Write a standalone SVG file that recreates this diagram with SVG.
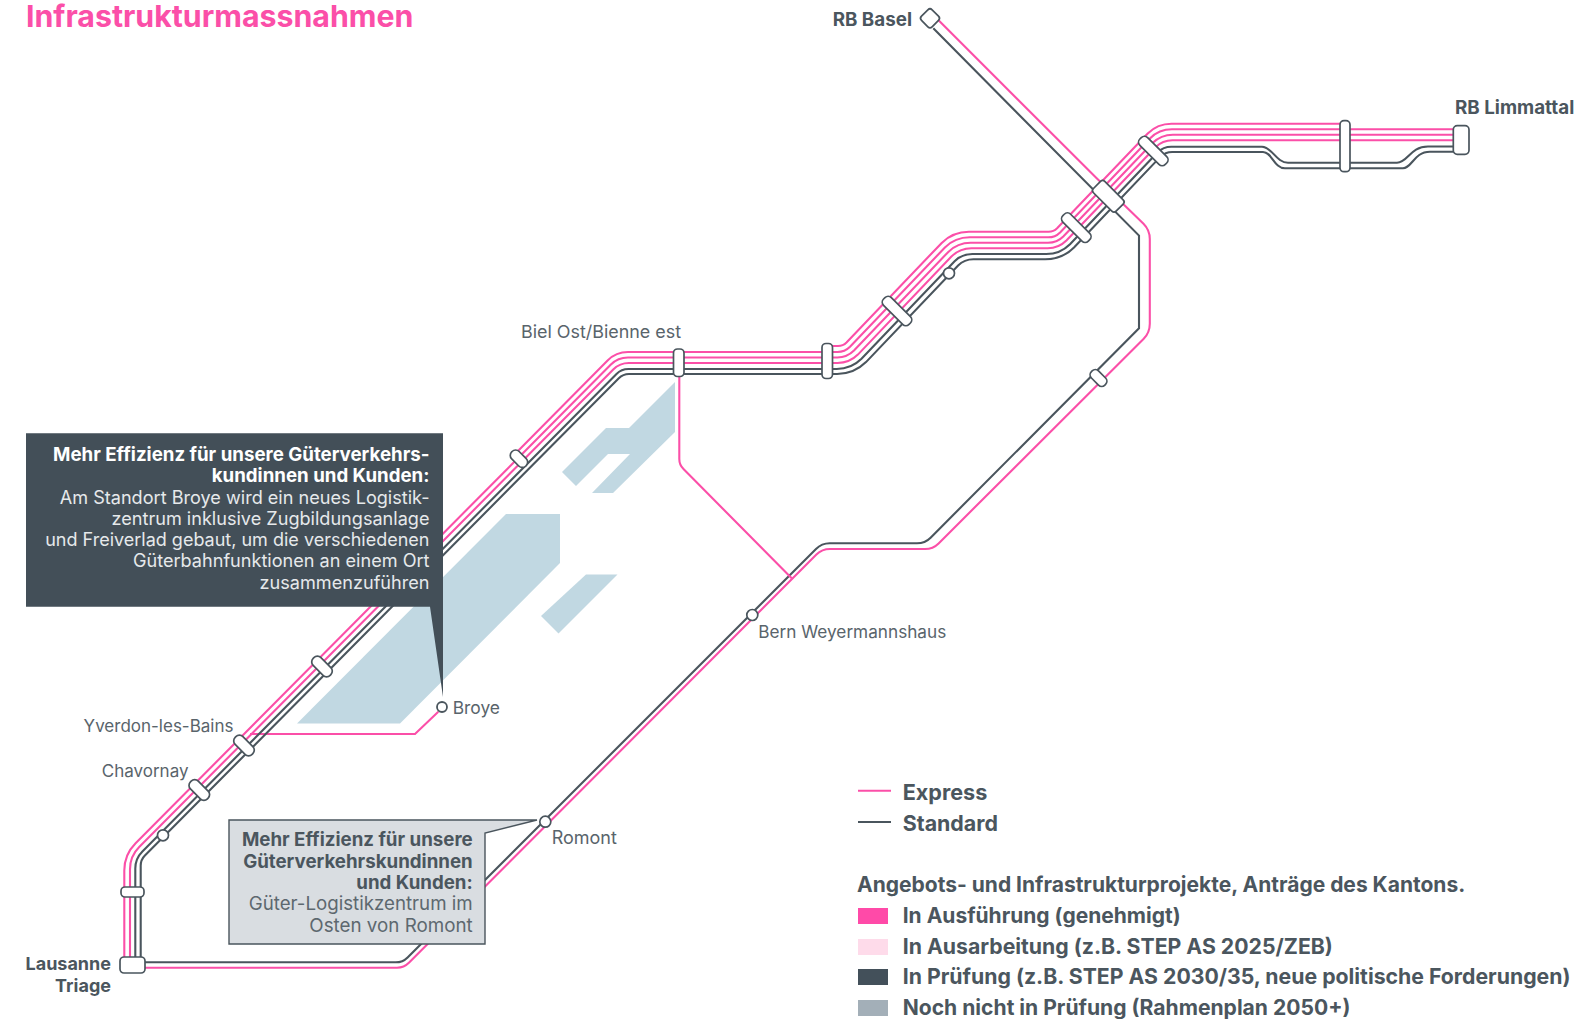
<svg xmlns="http://www.w3.org/2000/svg" width="1577" height="1019" viewBox="0 0 1577 1019">
<style>
text{font-family:Inter,"Liberation Sans",sans-serif;fill:#4b565e}
.p{fill:none;stroke:#fb4fa8;stroke-width:2.1}
.g{fill:none;stroke:#4a555d;stroke-width:2.1}
.st{fill:#fff;stroke:#4a555d;stroke-width:1.7}
.area{fill:#c1d8e2}
.lb{font-size:17.4px;fill:#59646b}
.lbb{font-size:18.8px;font-weight:700}
.leg{font-size:21px;font-weight:700}
.c{font-size:18.1px;text-anchor:end}
.cb{font-size:18.7px;font-weight:700;text-anchor:end}
.e{text-anchor:end}
</style>
<rect width="1577" height="1019" fill="#fff"/>
<text x="26" y="27" style="font-size:30.3px;font-weight:700;fill:#fb4fa8">Infrastrukturmassnahmen</text>
<g id="areas">
<polygon class="area" points="675,382 675,432 613,493 592,493 630,454 608,454 576,486 562,472 606,428 629,428"/>
<polygon class="area" points="506,514 560,514 560,563 400,723.5 297,723.5"/>
<polygon class="area" points="586,574.5 617.5,574.5 558.5,633.5 541,616"/>
</g>
<g id="connectors">
<path class="p" d="M938.3,20L1096.7,178.3L1143.5,223.7Q1149.8,230 1149.8,239V323.7Q1149.8,332.7 1143.5,339L938.6,543.4Q933,549 925,549H830Q822,549 816.4,554.6L408.9,962.8Q404,967.7 397,967.7H140"/>
<path class="g" d="M933.3,28.3L1139,235.6V328.3L930.6,537.7Q925,543.3 917,543.3H829.7Q821.7,543.3 816,549L407.6,957.4Q402.7,962.3 395.7,962.3H140"/>
<path class="p" d="M679.3,376V459Q679.3,465 683.5,469L791.7,578.3"/>
<path class="p" d="M250,734H415L438.3,711.7"/>
<path class="p" d="M827,346H838Q843,346 846.5,342.5L941.7,242.9Q952.9,231.7 968.9,231.7H1048.6Q1053.6,231.7 1057.1,228.2L1147.7,133.5Q1157.5,123.7 1171.5,123.7H1345"/>
<path class="p" d="M512,457L607.6,360.4Q616,352 628,352H837.4Q844.8,352 850,346.8L944.9,247.5Q955.1,237.3 969.7,237.3H1048.2Q1055.2,237.3 1060.1,232.4L1149.9,138.4Q1159,129.3 1172,129.3H1455"/>
<path class="p" d="M124.3,960V870.6Q124.3,854.6 135.6,843.3L610.9,364.5Q617.9,357.5 627.9,357.5H837.3Q847.1,357.5 854,350.6L948.3,251.9Q957.5,242.7 970.7,242.7H1048Q1057,242.7 1063.3,236.4L1152.5,143.1Q1160.9,134.7 1172.9,134.7H1455"/>
<path class="p" d="M130,960V869.3Q130,856.3 139.2,847.1L613.5,369.3Q619.8,363 628.8,363H837.5Q849.5,363 857.9,354.6L951.4,256.6Q959.7,248.3 971.5,248.3H1047.7Q1058.7,248.3 1066.4,240.6L1155.5,147.3Q1162.5,140.3 1172.5,140.3H1455"/>
<path class="g" d="M135.3,960V868.6Q135.3,858.6 142.4,851.5L616.5,373.9Q621.4,369 628.4,369H836.7Q851.3,369 861.5,358.8L954.6,261.3Q961.9,254 972.3,254H1046.2Q1060.2,254 1070,244.2L1157.7,152.3Q1163.3,146.7 1171.3,146.7H1262C1272,146.7 1276,162.7 1288,162.7H1397C1408,162.7 1410,146.5 1428,146.5H1455"/>
<path class="g" d="M140.7,960V865.8Q140.7,859.8 144.9,855.6L618.8,378.2Q623,374 629,374H837.1Q854.1,374 866,362.1L958.1,265.6Q964.4,259.3 973.4,259.3H1045.1Q1062.1,259.3 1074,247.4L1160.3,156.9Q1165.2,152 1172.2,152H1263C1272,152 1274,168.3 1285,168.3H1403C1412,168.3 1414,151.7 1430,151.7H1455"/>
</g>
<g id="callout-broye">
<polygon points="26,433.3 443,433.3 443,697 430,606.7 26,606.7" fill="#434f58"/>
<text class="cb" x="429.5" y="460.7" style="fill:#fff">Mehr Effizienz für unsere Güterverkehrs-</text>
<text class="cb" x="429.5" y="482.3" style="fill:#fff">kundinnen und Kunden:</text>
<text class="c" x="429.5" y="504" style="fill:#e6e9eb">Am Standort Broye wird ein neues Logistik-</text>
<text class="c" x="429.5" y="525.3" style="fill:#e6e9eb">zentrum inklusive Zugbildungsanlage</text>
<text class="c" x="429.5" y="546" style="fill:#e6e9eb;font-size:18px">und Freiverlad gebaut, um die verschiedenen</text>
<text class="c" x="429.5" y="567.3" style="fill:#e6e9eb">Güterbahnfunktionen an einem Ort</text>
<text class="c" x="429.5" y="588.7" style="fill:#e6e9eb">zusammenzuführen</text>
</g>
<g id="callout-romont">
<polygon points="229,820 537,820 485,833 485,944 229,944" fill="#d9dde1" stroke="#4a555d" stroke-width="1.4"/>
<text class="cb" x="472.7" y="846">Mehr Effizienz für unsere</text>
<text class="cb" x="472.7" y="867.7">Güterverkehrskundinnen</text>
<text class="cb" x="472.7" y="889">und Kunden:</text>
<text class="c" x="472.7" y="910" style="fill:#5d686f;font-size:18.7px">Güter-Logistikzentrum im</text>
<text class="c" x="472.7" y="931.7" style="fill:#5d686f;font-size:18.8px">Osten von Romont</text>
</g>
<g id="rb-basel"><rect class="st" x="922.5" y="10.8" width="15" height="15" rx="3" transform="rotate(45 930 18.3)"/><text class="lbb e" x="912" y="26">RB Basel</text></g>
<g id="rb-limmattal"><rect class="st" x="1453.3" y="125.7" width="15.7" height="28.6" rx="4"/><text class="lbb" x="1455" y="114">RB Limmattal</text></g>
<g id="hub"><rect class="st" x="1092.3" y="188.3" width="32" height="16" rx="3" transform="rotate(45 1108.3 196.3)"/></g>
<g id="stop-a"><rect class="st" x="1135.3" y="145.5" width="36" height="11" rx="4.5" transform="rotate(45 1153.3 151)"/></g>
<g id="stop-b"><rect class="st" x="1340" y="120.7" width="10" height="51" rx="4"/></g>
<g id="stop-c"><rect class="st" x="1058.3" y="222.2" width="36" height="11" rx="4.5" transform="rotate(45 1076.3 227.7)"/></g>
<g id="stop-d"><circle class="st" cx="949" cy="273.3" r="5.5"/></g>
<g id="stop-e"><rect class="st" x="879" y="305.5" width="36" height="11" rx="4.5" transform="rotate(45 897 311)"/></g>
<g id="stop-f"><rect class="st" x="822" y="343.5" width="10.5" height="35" rx="4"/></g>
<g id="biel"><rect class="st" x="673.5" y="349" width="10.5" height="27.5" rx="4"/><text class="lb" x="521" y="338" style="font-size:17.9px">Biel Ost/Bienne est</text></g>
<g id="stop-g"><rect class="st" x="509" y="453.5" width="20" height="10.5" rx="5" transform="rotate(45 519 458.7)"/></g>
<g id="stop-h"><rect class="st" x="310" y="661" width="24" height="11" rx="5" transform="rotate(45 322 666.5)"/></g>
<g id="yverdon"><rect class="st" x="232" y="740" width="24" height="11" rx="5" transform="rotate(45 244 745.5)"/><text class="lb e" x="233.5" y="732" style="font-size:17px">Yverdon-les-Bains</text></g>
<g id="chavornay"><rect class="st" x="187.3" y="784.5" width="24" height="11" rx="5" transform="rotate(45 199.3 790)"/><text class="lb e" x="188.5" y="776.7" style="font-size:17px">Chavornay</text></g>
<g id="stop-i"><circle class="st" cx="163" cy="835.3" r="5.5"/></g>
<g id="stop-j"><rect class="st" x="121" y="887" width="23" height="10" rx="4"/></g>
<g id="lausanne"><rect class="st" x="120" y="957" width="25" height="16" rx="4"/><text class="lbb e" x="111" y="970" style="font-size:18px">Lausanne</text><text class="lbb e" x="111" y="991.7" style="font-size:18px">Triage</text></g>
<g id="broye"><circle cx="442" cy="707" r="5" fill="#fff" stroke="#4a555d" stroke-width="1.8"/><text class="lb" x="452.7" y="714">Broye</text></g>
<g id="romont"><circle class="st" cx="545.3" cy="821.7" r="5.5"/><text class="lb" x="551.7" y="844" style="font-size:18px">Romont</text></g>
<g id="bern"><circle class="st" cx="752.3" cy="615" r="5.5"/><text class="lb" x="758.3" y="638" style="font-size:17.2px">Bern Weyermannshaus</text></g>
<g id="stop-k"><rect class="st" x="1089" y="373" width="19" height="10" rx="4.5" transform="rotate(45 1098.5 378)"/></g>
<g id="legend">
<line class="p" x1="858" y1="790.7" x2="891" y2="790.7"/>
<line class="g" x1="858" y1="822" x2="891" y2="822"/>
<text class="leg" x="902.7" y="800" style="font-size:21.6px">Express</text>
<text class="leg" x="902.7" y="831" style="font-size:21.4px">Standard</text>
<text class="leg" x="857" y="891.7">Angebots- und Infrastrukturprojekte, Anträge des Kantons.</text>
<rect x="858" y="908" width="30" height="16" fill="#ff4aa8"/>
<rect x="858" y="939" width="30" height="16" fill="#fedbea"/>
<rect x="858" y="969" width="30" height="16" fill="#43505a"/>
<rect x="858" y="1000" width="30" height="16" fill="#a3afb8"/>
<text class="leg" x="902.7" y="923.3">In Ausführung (genehmigt)</text>
<text class="leg" x="902.7" y="954" style="font-size:21.25px">In Ausarbeitung (z.B. STEP AS 2025/ZEB)</text>
<text class="leg" x="902.7" y="984" style="font-size:21.25px">In Prüfung (z.B. STEP AS 2030/35, neue politische Forderungen)</text>
<text class="leg" x="902.7" y="1015" style="font-size:21.1px">Noch nicht in Prüfung (Rahmenplan 2050+)</text>
</g>
</svg>
